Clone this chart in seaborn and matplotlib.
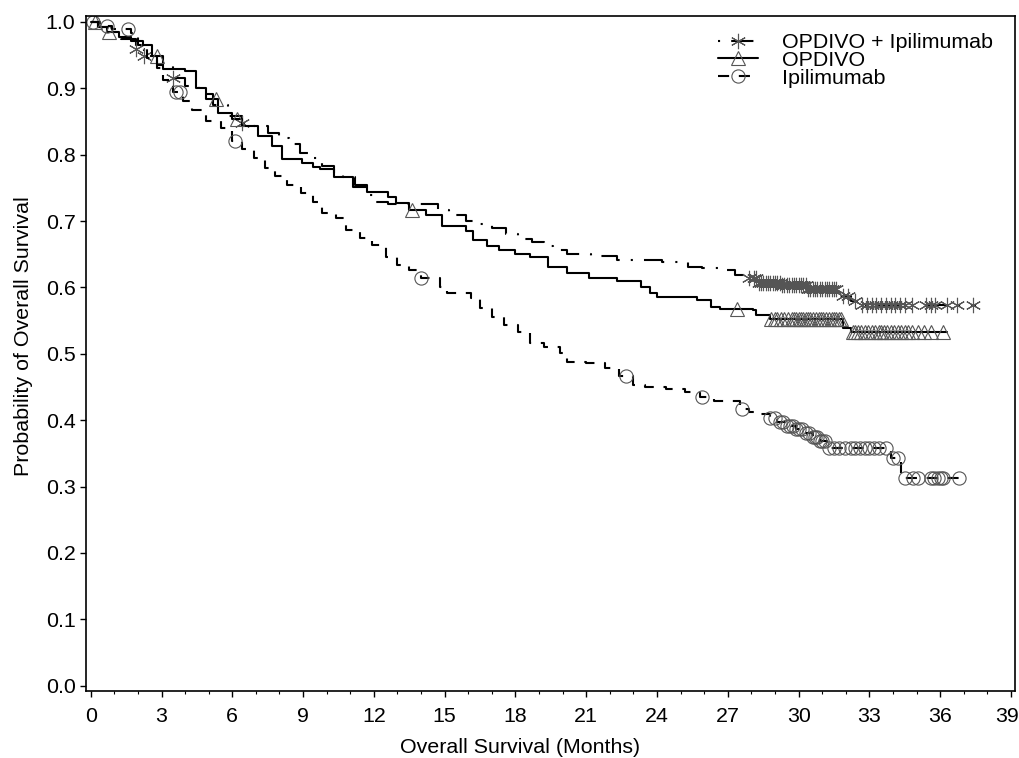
import numpy as np
import pandas as pd
import matplotlib
matplotlib.use("Agg")
import matplotlib.pyplot as plt
import matplotlib.transforms as mtransforms
import seaborn as sns
from matplotlib.lines import Line2D

# ---------------- data ----------------
combo_time = [0, 0.3, 0.8, 1.3, 1.9, 2.25, 2.8, 3.5, 4.0, 4.6, 5.2, 5.8, 6.4, 6.9, 7.5,
              8.0, 8.4, 8.86, 9.3, 9.8, 10.3, 10.7, 11.2, 11.7, 12.1, 12.6, 14.7, 15.2,
              15.9, 16.5, 17.0, 17.6, 18.1, 18.7, 19.2, 19.6, 20.2, 21.2, 22.3, 24.2,
              25.3, 25.9, 26.6, 27.3, 27.8, 28.3, 29.3, 30.4, 31.7, 32.2, 32.6, 37.5]
combo_surv = [1.0, 0.993, 0.985, 0.975, 0.959, 0.949, 0.935, 0.916, 0.904, 0.892, 0.875,
              0.858, 0.848, 0.843, 0.833, 0.825, 0.816, 0.803, 0.795, 0.783, 0.773, 0.767,
              0.755, 0.739, 0.729, 0.725, 0.716, 0.709, 0.700, 0.696, 0.690, 0.681, 0.673,
              0.669, 0.663, 0.657, 0.651, 0.647, 0.642, 0.639, 0.631, 0.629, 0.626, 0.619,
              0.614, 0.607, 0.604, 0.597, 0.587, 0.579, 0.574, 0.574]
combo_cens = [1.9, 2.25, 3.5, 6.4, 27.9, 28.1, 28.2, 28.3, 28.4, 28.5, 28.6, 28.7, 28.8,
              28.9, 29.0, 29.1, 29.2, 29.3, 29.4, 29.5, 29.6, 29.7, 29.8, 29.9, 30.0, 30.1,
              30.2, 30.3, 30.4, 30.5, 30.6, 30.7, 30.8, 30.9, 31.0, 31.1, 31.2, 31.3, 31.4,
              31.5, 31.6, 31.9, 32.1, 32.4, 32.7, 32.9, 33.1, 33.3, 33.5, 33.7, 33.9, 34.1,
              34.3, 34.5, 34.8, 35.4, 35.6, 35.8, 36.3, 36.7, 37.4]

nivo_time = [0, 0.3, 0.7, 1.2, 1.7, 2.2, 2.6, 3.05, 4.0, 4.45, 4.9, 5.4, 6.0, 6.4, 7.1,
             7.7, 8.1, 8.97, 9.4, 9.7, 10.3, 11.1, 11.7, 12.6, 12.95, 13.5, 14.2, 14.9,
             15.9, 16.2, 16.8, 17.3, 18.0, 18.6, 19.4, 20.2, 21.1, 22.3, 23.3, 23.7, 24.0,
             25.7, 26.3, 26.65, 28.05, 28.2, 28.8, 31.9, 32.2, 36.3]
nivo_surv = [1.0, 0.993, 0.985, 0.978, 0.972, 0.966, 0.949, 0.929, 0.926, 0.901, 0.884,
             0.863, 0.854, 0.843, 0.828, 0.813, 0.793, 0.788, 0.782, 0.778, 0.767, 0.752,
             0.744, 0.737, 0.727, 0.717, 0.709, 0.692, 0.685, 0.672, 0.662, 0.656, 0.651,
             0.646, 0.631, 0.622, 0.614, 0.609, 0.601, 0.591, 0.586, 0.581, 0.571, 0.568,
             0.566, 0.559, 0.553, 0.539, 0.533, 0.533]
nivo_cens = [0.2, 0.77, 2.8, 5.3, 6.2, 13.6, 27.4, 28.84, 29.0, 29.1, 29.25, 29.4, 29.55,
             29.7, 29.8, 29.9, 30.0, 30.1, 30.2, 30.3, 30.4, 30.5, 30.6, 30.75, 30.85,
             30.96, 31.05, 31.17, 31.3, 31.4, 31.5, 31.6, 31.7, 31.8, 32.3, 32.4, 32.5,
             32.65, 32.8, 32.95, 33.1, 33.25, 33.4, 33.5, 33.6, 33.75, 33.9, 34.05, 34.2,
             34.35, 34.5, 34.65, 34.8, 35.05, 35.3, 35.6, 36.1]

ipi_time = [0, 0.4, 0.9, 1.7, 2.0, 2.4, 2.8, 3.05, 3.5, 3.9, 4.3, 4.9, 5.5, 6.0, 6.4,
            6.9, 7.4, 7.8, 8.3, 8.9, 9.4, 9.8, 10.4, 10.8, 11.4, 11.9, 12.5, 13.0, 13.5,
            14.0, 14.8, 15.1, 16.1, 16.5, 17.0, 17.5, 18.1, 18.6, 19.2, 19.9, 20.2, 21.0,
            21.8, 22.4, 23.0, 23.5, 24.4, 25.2, 25.8, 26.4, 27.5, 27.9, 28.3, 28.8, 29.1,
            29.5, 29.9, 30.3, 30.6, 30.9, 31.2, 33.9, 34.35, 36.8]
ipi_surv = [1.0, 0.994, 0.989, 0.983, 0.965, 0.945, 0.930, 0.913, 0.895, 0.881, 0.867,
            0.851, 0.840, 0.820, 0.809, 0.795, 0.780, 0.768, 0.755, 0.742, 0.729, 0.712,
            0.704, 0.686, 0.675, 0.664, 0.646, 0.634, 0.627, 0.614, 0.601, 0.592, 0.584,
            0.569, 0.556, 0.544, 0.533, 0.517, 0.511, 0.501, 0.488, 0.486, 0.479, 0.467,
            0.453, 0.450, 0.447, 0.443, 0.435, 0.429, 0.417, 0.413, 0.410, 0.404, 0.398,
            0.392, 0.386, 0.380, 0.374, 0.368, 0.358, 0.343, 0.313, 0.313]
ipi_cens = [0.1, 0.7, 1.6, 3.6, 3.8, 6.1, 14.0, 22.7, 25.9, 27.6, 28.8, 29.0, 29.2, 29.35,
            29.5, 29.65, 29.75, 29.9, 30.0, 30.15, 30.3, 30.45, 30.6, 30.7, 30.8, 30.9,
            31.0, 31.1, 31.3, 31.5, 31.7, 31.95, 32.2, 32.4, 32.6, 32.8, 33.0, 33.2, 33.4,
            33.7, 34.0, 34.2, 34.5, 34.85, 35.05, 35.6, 35.75, 35.9, 36.05, 36.1, 36.8]

labels = ["OPDIVO + Ipilimumab", "OPDIVO", "Ipilimumab"]
x_ticks = list(range(0, 40, 3))
y_ticks = [round(0.1 * i, 1) for i in range(11)]

# ---------------- style ----------------
sns.set_style("ticks")
plt.rcParams["font.family"] = ["Liberation Sans", "DejaVu Sans"]
plt.rcParams["lines.scale_dashes"] = False
for k in ["text.color", "axes.labelcolor", "xtick.color", "ytick.color",
          "axes.edgecolor"]:
    plt.rcParams[k] = "black"
FS = 15.4

fig = plt.figure(figsize=(10.2, 7.58), dpi=100)
ax = fig.add_axes([86 / 1020, 1 - 691 / 758, (1015 - 86) / 1020, (691 - 16) / 758])

line_color = "black"
mark_color = "#555555"
styles = [
    dict(ls=(0, (16, 8, 1.5, 8)), marker=(6, 2, 0), ms=11),
    dict(ls="-", marker="^", ms=10),
    dict(ls=(0, (8, 7)), marker="o", ms=9.5),
]
series = [(combo_time, combo_surv, combo_cens),
          (nivo_time, nivo_surv, nivo_cens),
          (ipi_time, ipi_surv, ipi_cens)]

for (t, s, c), st, lab in zip(series, styles, labels):
    df = pd.DataFrame({"time": t, "surv": s})
    sns.lineplot(data=df, x="time", y="surv", drawstyle="steps-post", estimator=None,
                 color=line_color, linewidth=1.5, linestyle=st["ls"], ax=ax,
                 legend=False)
    t_arr = np.asarray(t)
    s_arr = np.asarray(s)
    c_arr = np.asarray(c)
    idx = np.searchsorted(t_arr, c_arr, side="right") - 1
    cdf = pd.DataFrame({"time": c_arr, "surv": s_arr[idx]})
    sns.lineplot(data=cdf, x="time", y="surv", estimator=None, sort=False,
                 linestyle="", marker=st["marker"], markersize=st["ms"],
                 markerfacecolor="none", markeredgecolor=mark_color,
                 markeredgewidth=0.8, color=mark_color, ax=ax, legend=False)

ax.set_xlim(-0.2, 39.17)
ax.set_ylim(-0.008, 1.009)
ax.set_xticks(x_ticks)
ax.set_xticks(range(0, 40), minor=True)
ax.set_xticklabels([str(v) for v in x_ticks])
ax.set_yticks(y_ticks)
ax.set_yticklabels([f"{v:.1f}" for v in y_ticks])
ax.tick_params(axis="both", which="major", length=4, width=1, labelsize=FS,
               color="black", labelcolor="black", direction="out")
ax.tick_params(axis="x", which="major", pad=7.5)
ax.tick_params(axis="y", which="major", pad=3.5)
ax.tick_params(axis="x", which="minor", length=2.5, width=0.8, color="black")
for sp in ax.spines.values():
    sp.set_visible(True)
    sp.set_color("black")
    sp.set_linewidth(1.2)

# keep the last x tick label inside the canvas
last = ax.get_xticklabels()[-1]
last.set_transform(last.get_transform() +
                   mtransforms.ScaledTranslation(-4 / 100, 0, fig.dpi_scale_trans))

ax.set_xlabel("Overall Survival (Months)", fontsize=FS, labelpad=9)
ax.set_ylabel("Probability of Overall Survival", fontsize=FS, labelpad=9)
ax.xaxis.label.set_x((520 - 86) / 929)
ax.yaxis.label.set_y((691 - 336) / 675)

handles = []
for st, lab in zip(styles, labels):
    ls = st["ls"]
    if isinstance(ls, tuple):
        ls = (sum(ls[1][:2]) if len(ls[1]) == 4 else 0, ls[1])
    handles.append(Line2D([], [], color=line_color, linewidth=1.5, linestyle=ls,
                          marker=st["marker"], markersize=st["ms"],
                          markerfacecolor="none", markeredgecolor=mark_color,
                          markeredgewidth=0.8))
fig.legend(handles, labels, loc="upper right",
           bbox_to_anchor=(993 / 1020, 1 - 33 / 758), frameon=False,
           fontsize=FS, labelspacing=-0.05, handlelength=1.9, handletextpad=1.1,
           borderpad=0, borderaxespad=0)

fig.savefig("out.png", dpi=100)
